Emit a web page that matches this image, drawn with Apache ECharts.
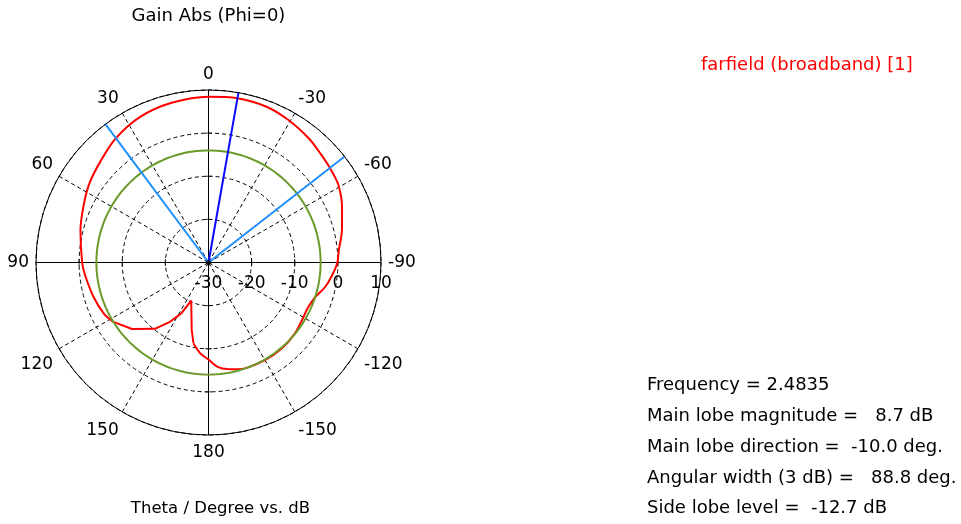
<!DOCTYPE html>
<html>
<head>
<meta charset="utf-8">
<script src="https://cdn.jsdelivr.net/npm/echarts@6/dist/echarts.min.js"></script>
<style>
  html, body { margin: 0; padding: 0; background: #fff; }
  #chart { width: 961px; height: 524px; }
</style>
</head>
<body>
<div id="chart"></div>
<script>
// Far-field gain cut, Phi = 0: theta in degrees, gain in dB
const thetaDeg = [-180, -175, -170, -165, -160, -150, -140, -130, -120, -115, -108, -102, -96, -90,
  -85, -76, -68, -59, -52, -46, -39, -29, -20, -10, 0, 13, 25, 37, 47, 56, 65, 76, 90,
  96, 107, 116, 122, 131, 141, 147, 152, 155.6, 166, 169.5, 175, 180];
const gainDb = [-7.5, -5.7, -4.9, -4.4, -4.0, -3.85, -3.8, -4.05, -4.6, -4.7, -4.0, -2.4, -1.2, -0.1,
  0.3, 1.9, 3.4, 5.1, 5.7, 6.2, 7.0, 7.9, 8.55, 8.7, 8.45, 8.0, 7.3, 5.9, 4.3, 3.2, 1.9, 0.6, -0.7,
  -1.25, -2.2, -3.0, -4.0, -6.5, -10.2, -13.6, -16.7, -20.3, -13.9, -10.9, -8.8, -7.5];

// Summary figures
const frequency = '2.4835';
const mainLobeDb = 8.7;
const mainLobeDir = -10.0;
const angularWidth = 88.8;
const sideLobeRel = -12.7;
const beamEdges = [36.7, -52.1];             // 3 dB points
const sideLobeDb = mainLobeDb + sideLobeRel; // absolute side lobe level

// Axes
const radiusMin = -30, radiusMax = 10, radiusStep = 10;
const angleStep = 30;
const axisDirs = [0, 90, 180, -90];
const ringTicks = [-20, -10, 0];

// The sharp null on the 150 degree side is drawn as a plain polyline
const notchFrom = 122, notchTo = 169.5;

const FONT = "'DejaVu Sans', Verdana, sans-serif";
const FS = 18;
const toAngle = t => (t < -90 ? t + 360 : t);

const points = thetaDeg.map((t, i) => ({ t, g: gainDb[i] }));
const notchPart = points.filter(p => p.t >= notchFrom && p.t <= notchTo);
// rest of the pattern, running from the end of the notch round through 180 back to its start
const smoothPart = points.filter(p => p.t >= notchTo && p.t < 180)
  .concat(points.filter(p => p.t <= notchFrom));
const toData = arr => arr.map(p => [p.g, toAngle(p.t)]);

const sideLobeRing = [];
for (let a = -90; a <= 270; a += 2) sideLobeRing.push([sideLobeDb, a]);

const ray = t => [[radiusMin, toAngle(t)], [radiusMax, toAngle(t)]];

const lineSeries = (data, color, width, z, smooth) => ({
  type: 'line', coordinateSystem: 'polar', data, symbol: 'none', silent: true,
  smooth: smooth || false, lineStyle: { color, width }, z, animation: false
});

const chart = echarts.init(document.getElementById('chart'));

const infoLines = [
  'Frequency = ' + frequency,
  'Main lobe magnitude =   ' + mainLobeDb.toFixed(1) + ' dB',
  'Main lobe direction =  ' + mainLobeDir.toFixed(1) + ' deg.',
  'Angular width (3 dB) =   ' + angularWidth.toFixed(1) + ' deg.',
  'Side lobe level =  ' + sideLobeRel.toFixed(1) + ' dB'
];
const infoY = [385, 416, 447, 478, 508];

const textEl = (x, y, text, align, size, fill) => ({
  type: 'text', x, y,
  style: { text, font: size + 'px ' + FONT, fill: fill || '#000', align, verticalAlign: 'middle' }
});

const graphics = [
  textEl(208.5, 16, 'Gain Abs (Phi=0)', 'center', FS),
  textEl(220.5, 509, 'Theta / Degree vs. dB', 'center', 16.5),
  textEl(701, 65, 'farfield (broadband) [1]', 'left', FS, '#ff0000')
].concat(infoLines.map((s, i) => textEl(647, infoY[i], s, 'left', FS)));

const dash = [4, 3];

// angle tick label text: lower half labels sit a little further out
const angleLabel = v => {
  const shown = v > 180 ? v - 360 : v;
  if (v === 180) return '{b|' + shown + '}';
  if (v > 90 && v < 270) return '{lo|' + shown + '}';
  return String(shown);
};

chart.setOption({
  animation: false,
  backgroundColor: '#fff',
  polar: { center: [208.5, 262.5], radius: 172.5 },
  angleAxis: {
    type: 'value', min: -90, max: 270, interval: angleStep,
    startAngle: 0, clockwise: false,
    axisLine: { lineStyle: { color: '#000', width: 1 } },
    axisTick: { show: false },
    axisLabel: {
      margin: 7, color: '#000', fontSize: 17, fontFamily: FONT,
      formatter: angleLabel,
      rich: {
        lo: { fontSize: 17, fontFamily: FONT, color: '#000', padding: [4, 0, 0, 0] },
        b: { fontSize: 17, fontFamily: FONT, color: '#000', padding: [2, 0, 0, 0] }
      }
    },
    splitLine: { show: true, lineStyle: { color: '#000', width: 1, type: dash } }
  },
  radiusAxis: {
    type: 'value', min: radiusMin, max: radiusMax, interval: radiusStep,
    axisLine: { show: false },
    axisTick: { show: false },
    axisLabel: {
      margin: -13, color: '#000', fontSize: 17, fontFamily: FONT,
      align: 'center', verticalAlign: 'top'
    },
    splitLine: { show: true, lineStyle: { color: '#000', width: 1, type: dash } }
  },
  graphic: graphics,
  series: [
    // solid principal axes
    ...axisDirs.map(t => lineSeries(ray(t), '#000', 1, 2)),
    // small ring ticks on the principal axes
    {
      type: 'scatter', coordinateSystem: 'polar', symbol: 'rect', symbolSize: [7, 1], silent: true, z: 3,
      itemStyle: { color: '#000' },
      data: [0, 180].flatMap(t => ringTicks.map(r => [r, toAngle(t)]))
    },
    {
      type: 'scatter', coordinateSystem: 'polar', symbol: 'rect', symbolSize: [1, 7], silent: true, z: 3,
      itemStyle: { color: '#000' },
      data: [90, -90].flatMap(t => ringTicks.map(r => [r, toAngle(t)]))
    },
    lineSeries(toData(smoothPart), '#ff0000', 2, 4, 0.3),
    lineSeries(toData(notchPart), '#ff0000', 2, 4),
    lineSeries(sideLobeRing, '#6b9a2a', 2, 5),
    lineSeries(ray(mainLobeDir), '#0a0aff', 2, 6),
    ...beamEdges.map(t => lineSeries(ray(t), '#1e8fff', 2, 6)),
    {
      type: 'scatter', coordinateSystem: 'polar', symbol: 'circle', symbolSize: 5, silent: true, z: 7,
      itemStyle: { color: '#000' }, data: [[radiusMin, 0]]
    }
  ]
});
</script>
</body>
</html>
